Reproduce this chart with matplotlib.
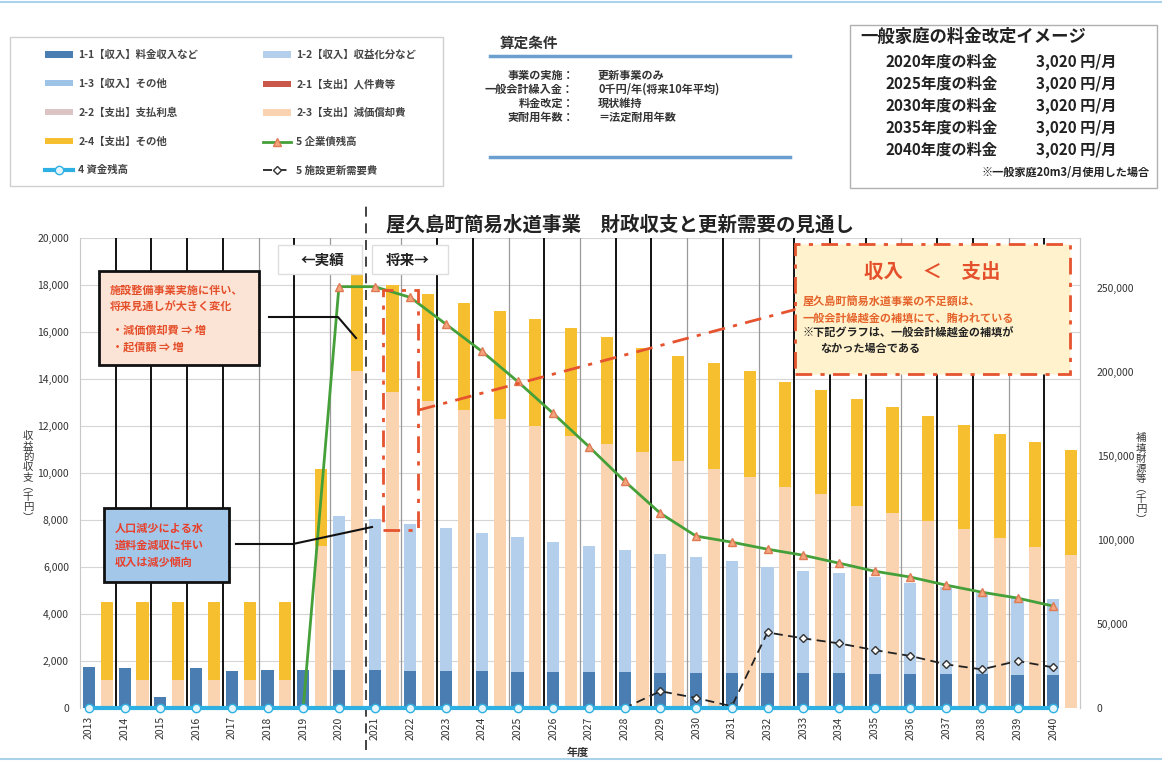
import matplotlib
matplotlib.use("Agg")
import matplotlib.pyplot as plt
from matplotlib.patches import Rectangle
from matplotlib.lines import Line2D
from matplotlib.ticker import FuncFormatter

plt.rcParams['font.family'] = ['Noto Sans CJK JP', 'DejaVu Sans']

# ---------------- data ----------------
years = list(range(2013, 2041))
year_labels = [str(y) for y in years]

rev_1_1 = [1750, 1710, 470, 1710, 1560, 1600, 1600, 1600, 1600, 1580, 1580, 1560, 1550, 1540,
           1530, 1520, 1510, 1500, 1490, 1480, 1470, 1470, 1460, 1450, 1440, 1430, 1420, 1410]
rev_1_2 = [0, 0, 0, 0, 0, 0, 0, 6560, 6430, 6240, 6070, 5880, 5710, 5510,
           5350, 5190, 5030, 4910, 4750, 4500, 4380, 4260, 4100, 3890, 3730, 3480, 3280, 3210]
rev_1_3 = [0] * 28
exp_2_1 = [0] * 28
exp_2_2 = [0] * 28
exp_2_3 = [1200, 1200, 1200, 1200, 1200, 1200, 6880, 14360, 13460, 13080, 12700, 12310, 12010, 11580,
           11240, 10900, 10510, 10170, 9830, 9400, 9100, 8590, 8290, 7950, 7610, 7220, 6840, 6500]
exp_2_4 = [3300, 3300, 3300, 3300, 3300, 3300, 3290, 4230, 4530, 4520, 4520, 4570, 4530, 4570,
           4530, 4440, 4490, 4490, 4490, 4490, 4450, 4570, 4530, 4490, 4440, 4450, 4480, 4480]
bond_balance = [0, 0, 0, 0, 0, 0, 0, 251000, 251000, 244600, 228600, 212500, 194600, 175500,
                155700, 135100, 116000, 102400, 98800, 94600, 91000, 86300, 81500, 78000, 73200,
                69000, 65500, 60700]
fund_balance = [0] * 28
renewal_demand = [0] * 16 + [10000, 6000, 1000, 45000, 41500, 38500, 34500, 31000, 26000, 23000,
                             28000, 24200]

legend_labels = ['1-1【収入】料金収入など', '1-2【収入】収益化分など', '1-3【収入】その他',
                 '2-1【支出】人件費等', '2-2【支出】支払利息', '2-3【支出】減価償却費',
                 '2-4【支出】その他', '5 企業債残高', '4 資金残高', '5 施設更新需要費']

cond_labels = ['事業の実施：', '一般会計繰入金：', '料金改定：', '実耐用年数：']
cond_values = ['更新事業のみ', '0千円/年(将来10年平均)', '現状維持', '＝法定耐用年数']

rate_years = ['2020年度の料金', '2025年度の料金', '2030年度の料金', '2035年度の料金', '2040年度の料金']
rate_values = ['3,020 円/月'] * 5

# ---------------- style ----------------
C11, C12, C13 = '#4a7eb2', '#b3cfeb', '#9dc3e6'
C21, C22, C23, C24 = '#c9574a', '#dcc4c4', '#fad4b0', '#f6bf2f'
CGREEN, CCYAN = '#45a03a', '#2fb0e2'
RED = '#e5532f'

W, H = 1162, 762
fig = plt.figure(figsize=(W / 100, H / 100), dpi=100)


def fx(x):
    return x / W


def fy(y):
    return 1 - y / H


ax = fig.add_axes([fx(80), fy(708), 1000 / W, 470 / H])
ax2 = ax.twinx()

n = len(years)
xr = list(range(n))
xe = [i + 0.5 for i in xr]
bw = 0.34

# revenue stack
b = [0] * n
h11 = ax.bar(xr, rev_1_1, bw, bottom=b, color=C11, zorder=3)
b = [b[i] + rev_1_1[i] for i in range(n)]
h12 = ax.bar(xr, rev_1_2, bw, bottom=b, color=C12, zorder=3)
b = [b[i] + rev_1_2[i] for i in range(n)]
h13 = ax.bar(xr, rev_1_3, bw, bottom=b, color=C13, zorder=3)
# expense stack
b = [0] * n
h21 = ax.bar(xe, exp_2_1, bw, bottom=b, color=C21, zorder=3)
b = [b[i] + exp_2_1[i] for i in range(n)]
h22 = ax.bar(xe, exp_2_2, bw, bottom=b, color=C22, zorder=3)
b = [b[i] + exp_2_2[i] for i in range(n)]
h23 = ax.bar(xe, exp_2_3, bw, bottom=b, color=C23, zorder=3)
b = [b[i] + exp_2_3[i] for i in range(n)]
h24 = ax.bar(xe, exp_2_4, bw, bottom=b, color=C24, zorder=3)

ax.set_xlim(-0.25, n - 0.25)
ax.set_ylim(0, 20000)
ax.set_yticks(range(0, 20001, 2000))
ax.yaxis.set_major_formatter(FuncFormatter(lambda v, p: f'{int(v):,}'))
ax.set_xticks(xr)
ax.set_xticklabels(year_labels, rotation=90, fontsize=7.5, color='#333333')
ax.tick_params(axis='x', length=0, pad=6)
ax.tick_params(axis='y', length=0, pad=8, labelsize=7.5, labelcolor='#333333')
ax.grid(axis='y', color='#d5d5d5', lw=0.8, zorder=0)
ax.set_axisbelow(True)
for s in ['top', 'bottom']:
    ax.spines[s].set_visible(False)
ax.spines['left'].set_color('#c8c8c8')
ax.spines['right'].set_color('#c8c8c8')

# group boundary lines (scan renders some darker than others)
gray_bounds = {4, 6, 8, 11, 13, 16, 18, 22, 25}
for i in range(n - 1):
    if i == 7:
        continue
    if i in gray_bounds:
        ax.axvline(i + 0.75, color='#9a9a9a', lw=0.9, zorder=1)
    else:
        ax.axvline(i + 0.75, color='#111111', lw=1.4, zorder=1)
# actual / forecast divider
ax.plot([7.75, 7.75], [-0.09, 1.07], transform=ax.get_xaxis_transform(), color='#222222',
        lw=1.2, ls=(0, (6, 4)), clip_on=False, zorder=5)

# lines on right axis
hg, = ax2.plot(xr, bond_balance, color=CGREEN, lw=2, marker='^', ms=6,
               mfc='#f3a57e', mec='#e07a55', zorder=4)
hd, = ax2.plot(xr, renewal_demand, color='#222222', lw=1.3, ls=(0, (5, 3)), marker='D', ms=4.5,
               mfc='white', mec='#333333', zorder=5, clip_on=False)
hc, = ax2.plot(xr, fund_balance, color=CCYAN, lw=3, marker='o', ms=6,
               mfc='#e4f5fc', mec=CCYAN, zorder=6, clip_on=False)
ax2.set_ylim(0, 280000)
ax2.set_yticks(range(0, 250001, 50000))
ax2.yaxis.set_major_formatter(FuncFormatter(lambda v, p: f'{int(v):,}'))
ax2.tick_params(axis='y', length=0, pad=12, labelsize=7.5, labelcolor='#333333')
for s in ['top', 'bottom', 'left']:
    ax2.spines[s].set_visible(False)
ax2.spines['right'].set_color('#c8c8c8')
ax2.set_xlim(-0.25, n - 0.25)

# axis titles
fig.text(fx(28), fy(477), '\n'.join('収益的収支︵千円︶'), ha='center', va='center',
         fontsize=7.5, linespacing=1.02, color='#333333')
fig.text(fx(1141), fy(479), '\n'.join('補填財源等︵千円︶'), ha='center', va='center',
         fontsize=7.5, linespacing=1.02, color='#333333')
fig.text(fx(578), fy(752), '年度', ha='center', va='center', fontsize=8, fontweight='bold',
         color='#333333')

# chart title
fig.text(fx(620), fy(225), '屋久島町簡易水道事業　財政収支と更新需要の見通し', ha='center',
         va='center', fontsize=14, fontweight='bold', color='#222222')

# ---------------- legend (two columns) ----------------
leg_handles = [h11, h12, h13, h21, h22, h23, h24, hg, hc, hd]
col1 = [0, 2, 4, 6, 8]
col2 = [1, 3, 5, 7, 9]
for cols, xa in [(col1, 45), (col2, 263)]:
    lg = fig.legend([leg_handles[k] for k in cols], [legend_labels[k] for k in cols],
                    loc='upper left', bbox_to_anchor=(fx(xa), fy(50)), frameon=False,
                    fontsize=7.5, handlelength=2.7, handleheight=0.55, handletextpad=0.5,
                    labelspacing=1.78, borderpad=0, borderaxespad=0)
    for t in lg.get_texts():
        t.set_color('#444444')
        t.set_fontweight('bold')
fig.patches.append(Rectangle((fx(10), fy(186)), fx(433), 149 / H, transform=fig.transFigure,
                             fill=False, ec='#d0d0d0', lw=1))

# ---------------- conditions box ----------------
fig.text(fx(500), fy(43), '算定条件', ha='left', va='center', fontsize=10.5, fontweight='bold',
         color='#333333')
fig.lines.append(Line2D([fx(490), fx(790)], [fy(56), fy(56)], transform=fig.transFigure,
                        color='#6a9fcf', lw=2.5))
fig.lines.append(Line2D([fx(490), fx(790)], [fy(157), fy(157)], transform=fig.transFigure,
                        color='#6a9fcf', lw=2.5))
for k, (lab, val) in enumerate(zip(cond_labels, cond_values)):
    yy = 75 + k * 14
    fig.text(fx(574), fy(yy), lab, ha='right', va='center', fontsize=8, fontweight='bold',
             color='#333333')
    fig.text(fx(598), fy(yy), val, ha='left', va='center', fontsize=8, fontweight='bold',
             color='#333333')

# ---------------- rate box ----------------
fig.patches.append(Rectangle((fx(850), fy(188)), 307 / W, 163 / H, transform=fig.transFigure,
                             fill=False, ec='#b0b0b0', lw=1))
fig.text(fx(860), fy(37), '一般家庭の料金改定イメージ', ha='left', va='center', fontsize=12.5,
         fontweight='bold', color='#222222')
for k, (lab, val) in enumerate(zip(rate_years, rate_values)):
    yy = 62 + k * 22
    fig.text(fx(885), fy(yy), lab, ha='left', va='center', fontsize=11, fontweight='bold',
             color='#222222')
    fig.text(fx(1036), fy(yy), val, ha='left', va='center', fontsize=11, fontweight='bold',
             color='#222222')
fig.text(fx(1150), fy(173), '※一般家庭20m3/月使用した場合', ha='right', va='center', fontsize=8,
         fontweight='bold', color='#222222')

# ---------------- in-chart annotations ----------------
# actual / forecast tags
fig.patches.append(Rectangle((fx(278), fy(274)), 84 / W, 29 / H, transform=fig.transFigure,
                             fc='white', ec='#dddddd', lw=1))
fig.text(fx(322), fy(260), '←実績', ha='center', va='center', fontsize=10.5, fontweight='bold',
         color='#222222')
fig.patches.append(Rectangle((fx(372), fy(274)), 76 / W, 29 / H, transform=fig.transFigure,
                             fc='white', ec='#dddddd', lw=1))
fig.text(fx(408), fy(260), '将来→', ha='center', va='center', fontsize=10.5, fontweight='bold',
         color='#222222')

# box 1
fig.patches.append(Rectangle((fx(99), fy(365)), 160 / W, 94 / H, transform=fig.transFigure,
                             fc='#fbe4d5', ec='#111111', lw=2, zorder=6))
for txt, yy, xx in [('施設整備事業実施に伴い、', 290, 110), ('将来見通しが大きく変化', 307, 110),
                    ('・減価償却費 ⇒ 増', 330, 112), ('・起債額 ⇒ 増', 347, 112)]:
    fig.text(fx(xx), fy(yy), txt, ha='left', va='center', fontsize=8, fontweight='bold',
             color='#e5502c', zorder=7)
fig.lines.append(Line2D([fx(269), fx(338), fx(356)], [fy(317), fy(317), fy(338)],
                        transform=fig.transFigure, color='#111111', lw=1.5, zorder=6))

# box 2
fig.patches.append(Rectangle((fx(104), fy(582)), 125 / W, 74 / H, transform=fig.transFigure,
                             fc='#a2c7e8', ec='#111111', lw=2, zorder=6))
for txt, yy in [('人口減少による水', 528), ('道料金減収に伴い', 545), ('収入は減少傾向', 562)]:
    fig.text(fx(115), fy(yy), txt, ha='left', va='center', fontsize=8, fontweight='bold',
             color='#e8402c', zorder=7)
fig.lines.append(Line2D([fx(236), fx(293), fx(372)], [fy(544), fy(544), fy(527)],
                        transform=fig.transFigure, color='#111111', lw=1.5, zorder=6))

# red dash-dot highlight and connector
dd = (0, (6, 3, 1.5, 3))
fig.patches.append(Rectangle((fx(383), fy(530)), 35 / W, 240 / H, transform=fig.transFigure,
                             fill=False, ec=RED, lw=2, ls=dd, zorder=6))
fig.lines.append(Line2D([fx(419), fx(797)], [fy(410), fy(309)], transform=fig.transFigure,
                        color=RED, lw=2, ls=dd, zorder=6))

# big box
fig.patches.append(Rectangle((fx(795), fy(374)), 275 / W, 130 / H, transform=fig.transFigure,
                             fc='#fff2cc', ec=RED, lw=2, ls=dd, zorder=6))
fig.text(fx(932), fy(272), '収入　＜　支出', ha='center', va='center', fontsize=14,
         fontweight='bold', color='#e5502c', zorder=7)
fig.text(fx(803), fy(302), '屋久島町簡易水道事業の不足額は、', ha='left', va='center', fontsize=8,
         fontweight='bold', color='#e5642c', zorder=7)
fig.text(fx(803), fy(318), '一般会計繰越金の補填にて、賄われている', ha='left', va='center',
         fontsize=8, fontweight='bold', color='#e5642c', zorder=7)
fig.text(fx(803), fy(333), '※下記グラフは、一般会計繰越金の補填が', ha='left', va='center',
         fontsize=8, fontweight='bold', color='#222222', zorder=7)
fig.text(fx(820), fy(348), 'なかった場合である', ha='left', va='center', fontsize=8,
         fontweight='bold', color='#222222', zorder=7)

# scan edges
fig.lines.append(Line2D([0, 1], [fy(759), fy(759)], transform=fig.transFigure, color='#a9d2ec',
                        lw=1.5))
fig.lines.append(Line2D([0, 1], [fy(2), fy(2)], transform=fig.transFigure, color='#a9d2ec',
                        lw=1.5))

fig.savefig('out.png', dpi=100)
